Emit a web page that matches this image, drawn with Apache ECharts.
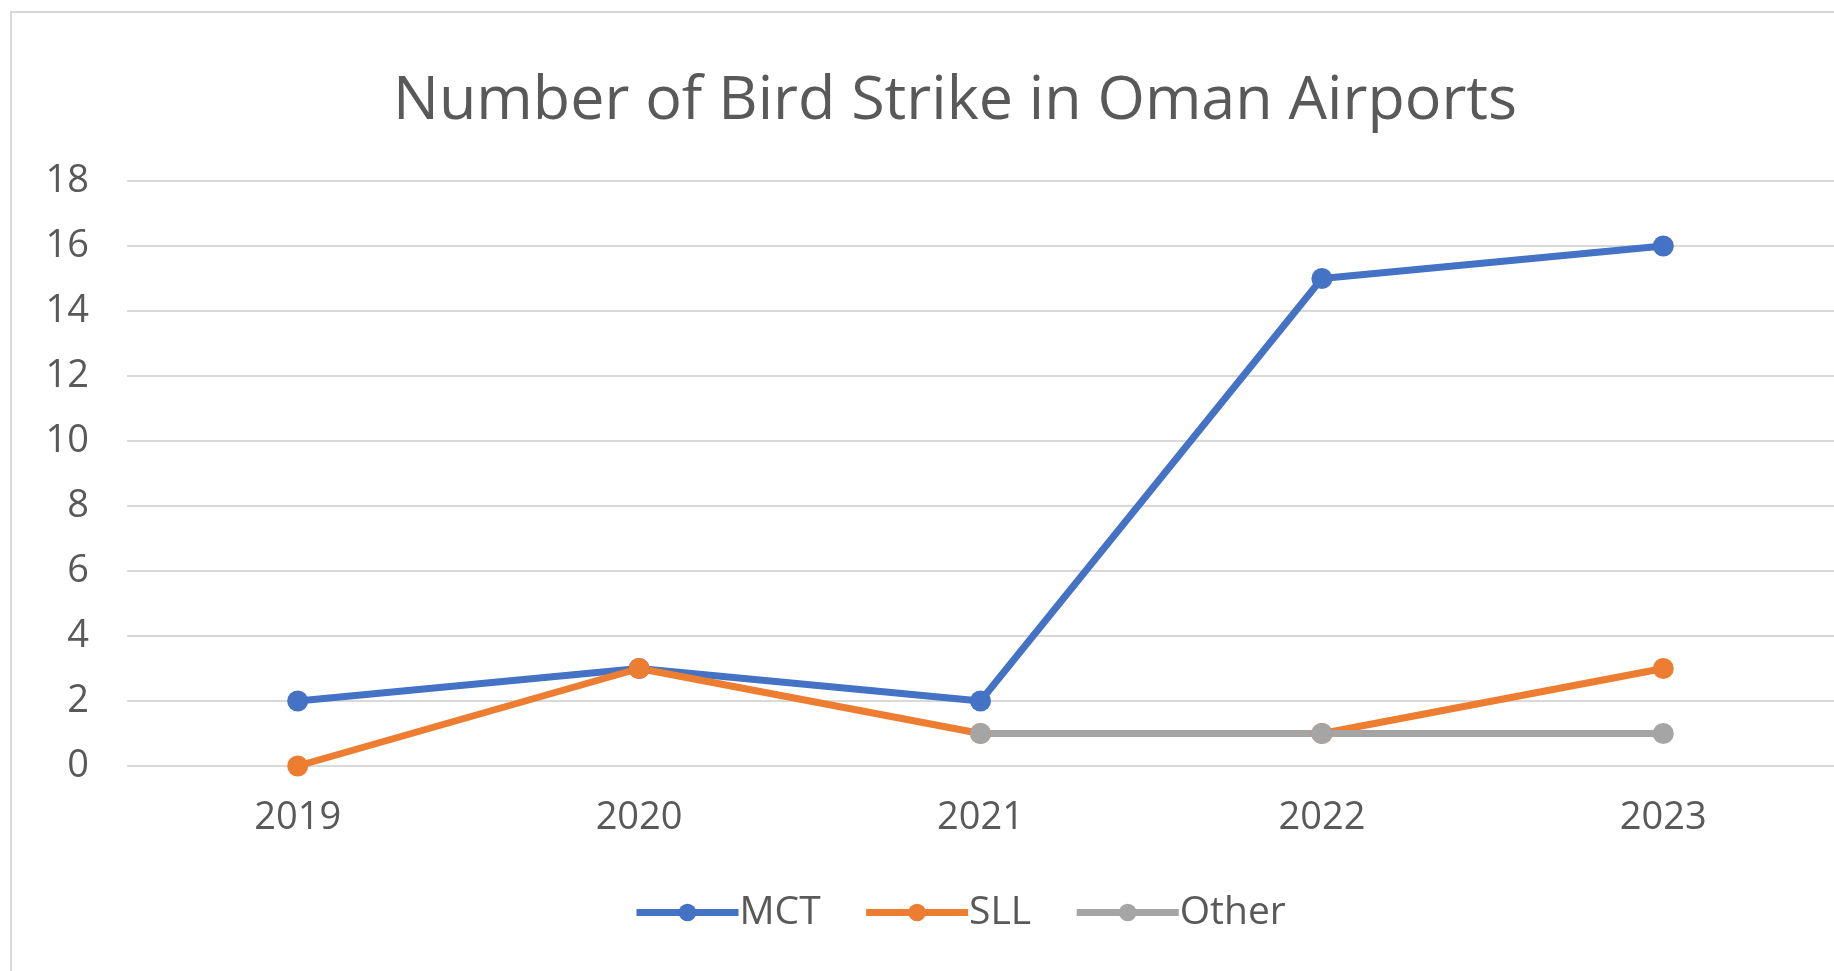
<!DOCTYPE html>
<html>
<head>
<meta charset="utf-8">
<script src="https://cdn.jsdelivr.net/npm/echarts@6/dist/echarts.min.js"></script>
<style>
  html, body { margin: 0; padding: 0; background: #fff; }
  #chart { width: 1834px; height: 971px; }
</style>
</head>
<body>
<div id="chart"></div>
<script>
// data
var years = ['2019', '2020', '2021', '2022', '2023'];
var mct = [2, 3, 2, 15, 16];
var sll = [0, 3, 1, 1, 3];
var other = [null, null, 1, 1, 1];

var font = '"Open Sans", sans-serif';
var textColor = '#595959';

var chart = echarts.init(document.getElementById('chart'));

var option = {
  backgroundColor: '#fff',
  animation: false,
  color: ['#4472C4', '#ED7D31', '#A5A5A5'],
  title: {
    text: 'Number of Bird Strike in Oman Airports',
    left: 388,
    top: 66,
    textStyle: {
      fontFamily: font,
      fontSize: 61,
      fontWeight: 'normal',
      color: textColor
    }
  },
  graphic: [{
    type: 'rect',
    shape: { x: 11, y: 12, width: 1900, height: 1000 },
    style: { fill: 'none', stroke: '#d9d9d9', lineWidth: 2 },
    silent: true
  }],
  legend: {
    bottom: 34,
    left: 628,
    itemWidth: 102,
    itemHeight: 22,
    itemGap: 42,
    lineStyle: { width: 7 },
    textStyle: { fontFamily: font, fontSize: 39, color: textColor, padding: [0, 0, 0, -4] },
    data: ['MCT', 'SLL', 'Other']
  },
  grid: {
    left: 127,
    top: 181,
    width: 1711,
    height: 585,
    containLabel: false
  },
  xAxis: {
    type: 'category',
    data: years,
    boundaryGap: true,
    axisLine: { show: false },
    axisTick: { show: false },
    axisLabel: {
      fontFamily: font,
      fontSize: 38,
      color: textColor,
      margin: 33
    }
  },
  yAxis: {
    type: 'value',
    min: 0,
    max: 18,
    interval: 2,
    axisLine: { show: false },
    axisTick: { show: false },
    axisLabel: {
      fontFamily: font,
      fontSize: 38,
      color: textColor,
      margin: 38
    },
    splitLine: { lineStyle: { color: '#d9d9d9', width: 2 } }
  },
  series: [
    {
      name: 'MCT', type: 'line', data: mct,
      symbol: 'circle', symbolSize: 21,
      lineStyle: { width: 7 }
    },
    {
      name: 'SLL', type: 'line', data: sll,
      symbol: 'circle', symbolSize: 21,
      lineStyle: { width: 7 }
    },
    {
      name: 'Other', type: 'line', data: other,
      symbol: 'circle', symbolSize: 21,
      lineStyle: { width: 7 }
    }
  ]
};

chart.setOption(option);
</script>
</body>
</html>
